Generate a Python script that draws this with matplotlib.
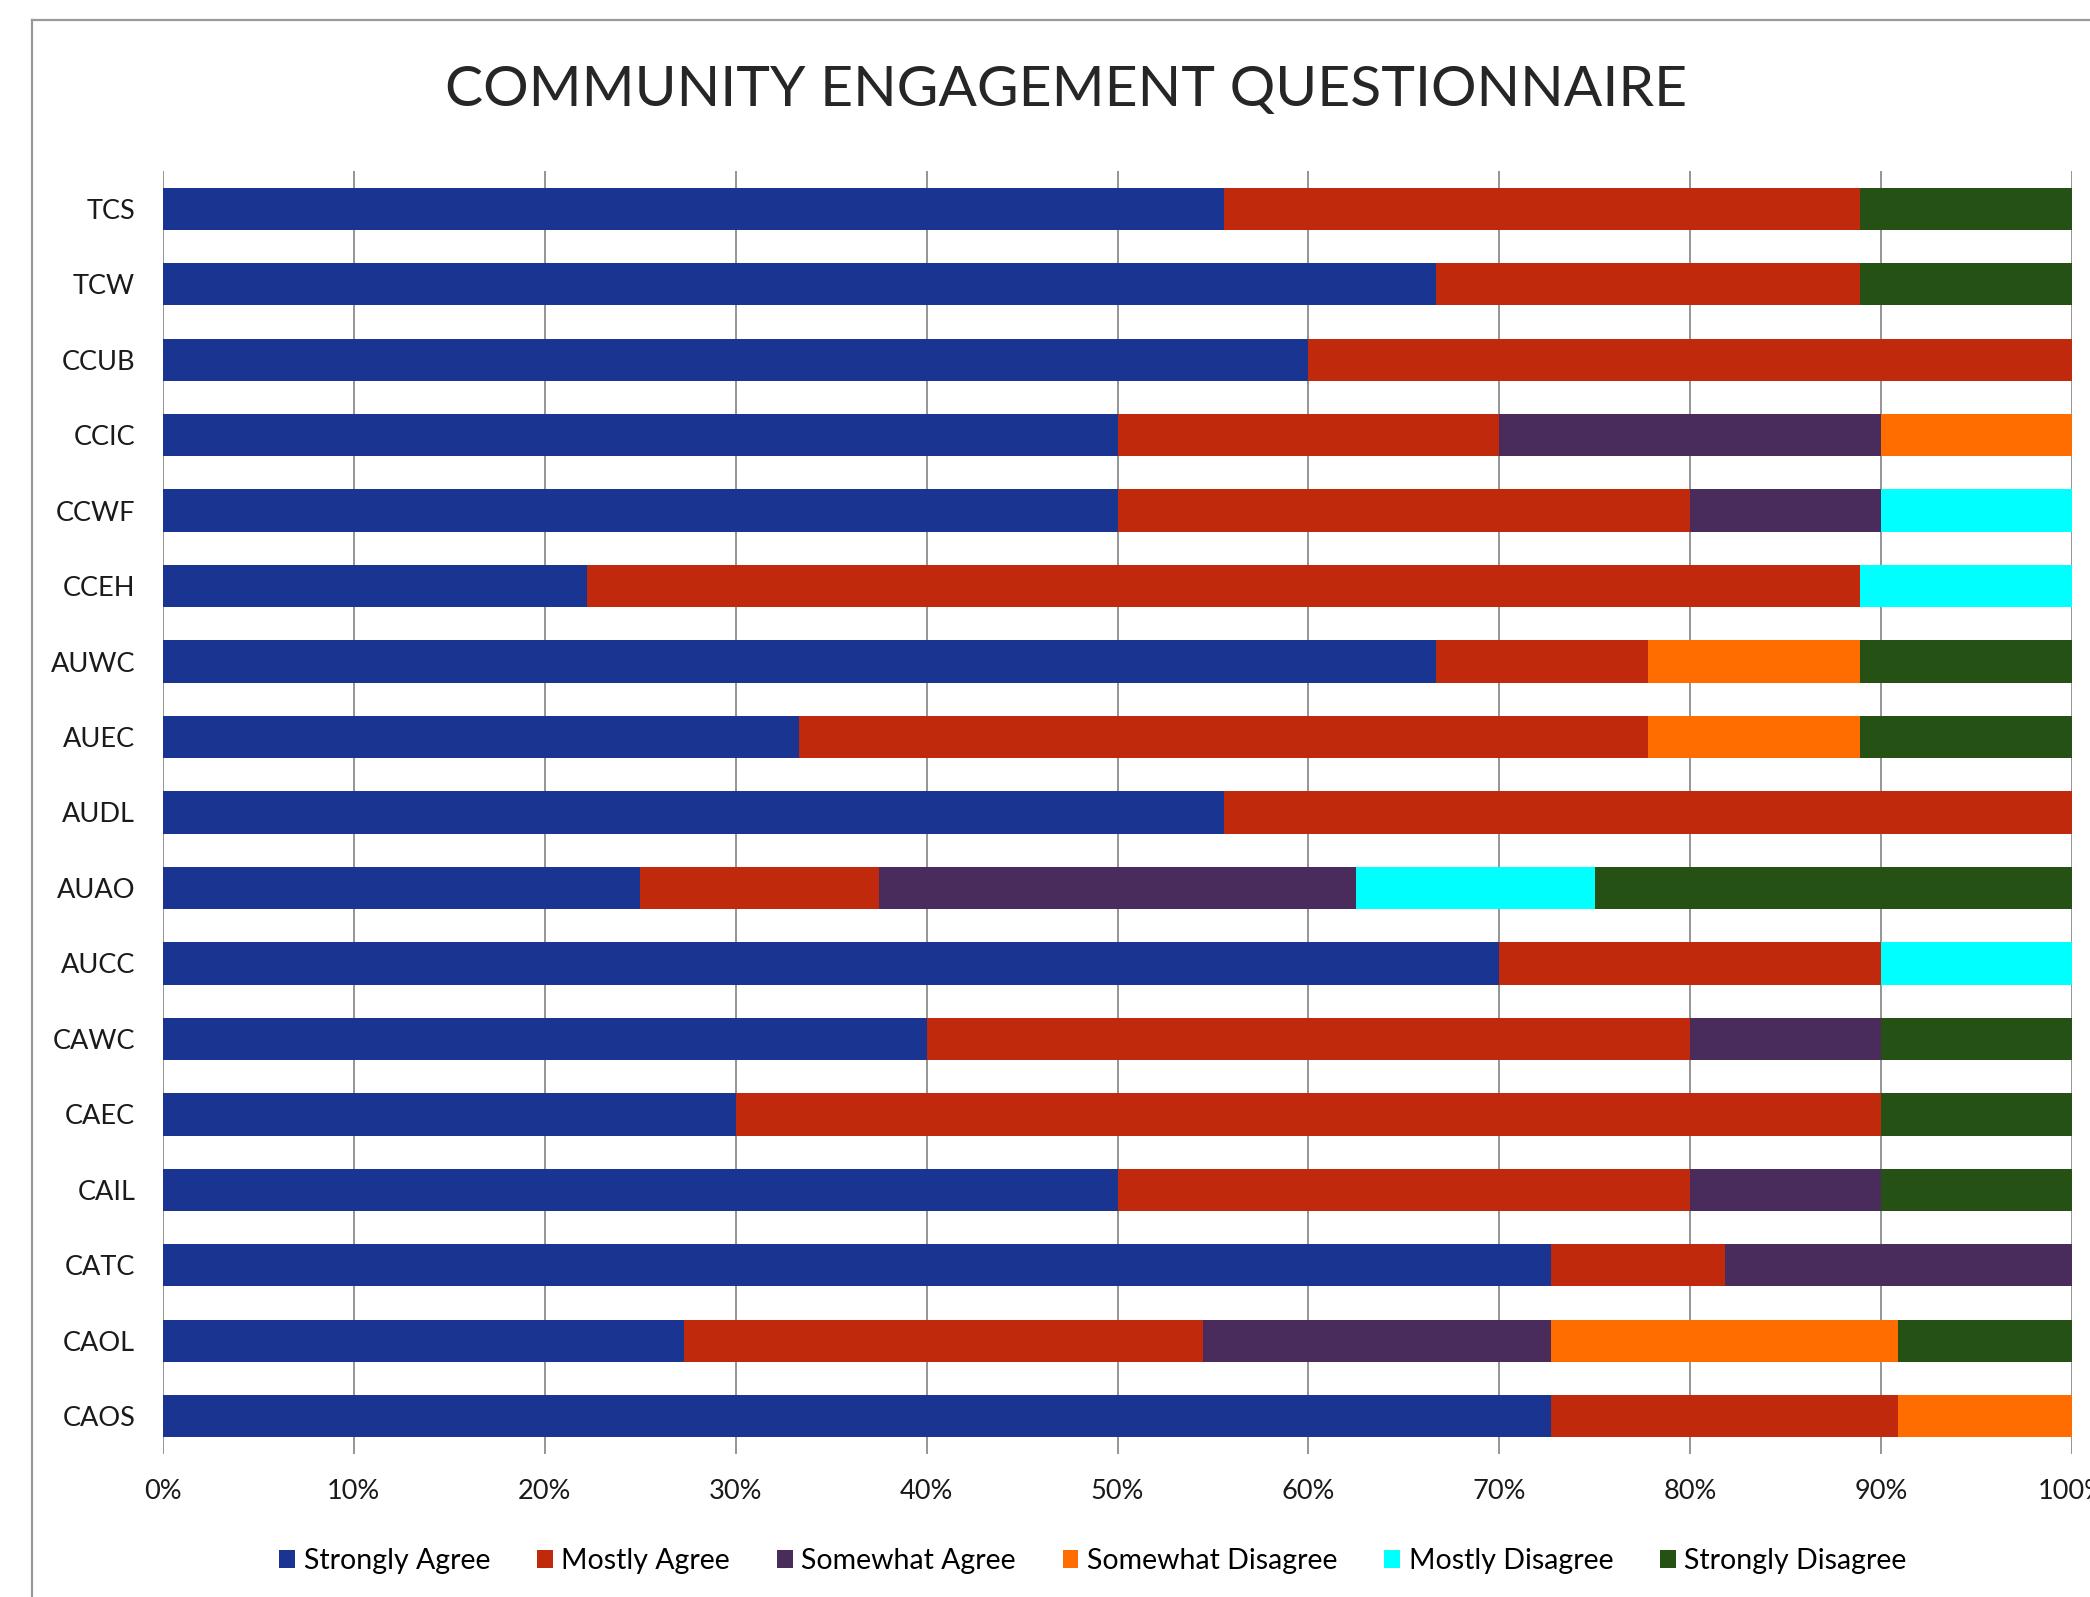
import matplotlib
matplotlib.use("Agg")
import matplotlib.pyplot as plt
import numpy as np
from matplotlib.lines import Line2D

plt.rcParams['font.family'] = ['Lato', 'DejaVu Sans']

# survey items, top to bottom
categories = ['TCS', 'TCW', 'CCUB', 'CCIC', 'CCWF', 'CCEH', 'AUWC', 'AUEC', 'AUDL',
              'AUAO', 'AUCC', 'CAWC', 'CAEC', 'CAIL', 'CATC', 'CAOL', 'CAOS']

responses = ['Strongly Agree', 'Mostly Agree', 'Somewhat Agree',
             'Somewhat Disagree', 'Mostly Disagree', 'Strongly Disagree']
colors = ['#1a3591', '#c0290c', '#4a2c5c', '#ff6c00', '#00ffff', '#255214']

# percentages per response
strongly_agree = [55.6, 66.7, 60.0, 50.0, 50.0, 22.2, 66.7, 33.3, 55.6,
                  25.0, 70.0, 40.0, 30.0, 50.0, 72.7, 27.3, 72.7]
mostly_agree = [33.3, 22.2, 40.0, 20.0, 30.0, 66.7, 11.1, 44.5, 44.4,
                12.5, 20.0, 40.0, 60.0, 30.0, 9.1, 27.2, 18.2]
somewhat_agree = [0, 0, 0, 20.0, 10.0, 0, 0, 0, 0,
                  25.0, 0, 10.0, 0, 10.0, 18.2, 18.2, 0]
somewhat_disagree = [0, 0, 0, 10.0, 0, 0, 11.1, 11.1, 0,
                     0, 0, 0, 0, 0, 0, 18.2, 9.1]
mostly_disagree = [0, 0, 0, 0, 10.0, 11.1, 0, 0, 0,
                   12.5, 10.0, 0, 0, 0, 0, 0, 0]
strongly_disagree = [11.1, 11.1, 0, 0, 0, 0, 11.1, 11.1, 0,
                     25.0, 0, 10.0, 10.0, 10.0, 0, 9.1, 0]

series = [strongly_agree, mostly_agree, somewhat_agree,
          somewhat_disagree, mostly_disagree, strongly_disagree]

fig = plt.figure(figsize=(20.9, 15.97), dpi=100)
ax = fig.add_axes([163 / 2090, 1 - 1454 / 1597, (2072 - 163) / 2090, (1454 - 171) / 1597])

y = np.arange(len(categories))
left = np.zeros(len(categories))
for vals, name, col in zip(series, responses, colors):
    vals = np.array(vals) / 100.0
    ax.barh(y, vals, left=left, height=0.56, color=col, label=name, zorder=3)
    left += vals

ax.set_xlim(0, 1)
ax.set_ylim(len(categories) - 0.5, -0.5)
ax.set_yticks(y)
ax.set_yticklabels(categories)
ax.set_xticks(np.arange(0, 1.01, 0.1))
ax.set_xticklabels([f'{int(round(v * 100))}%' for v in np.arange(0, 1.01, 0.1)])
ax.grid(axis='x', color='#8c8c8c', linewidth=1.3, zorder=0)
ax.set_axisbelow(True)
for s in ax.spines.values():
    s.set_visible(False)
ax.tick_params(axis='both', length=0, labelsize=19.5, colors='#1a1a1a')
ax.tick_params(axis='x', pad=18)
ax.tick_params(axis='y', pad=20)

fig.text(1066 / 2090, 1 - 91 / 1597, 'COMMUNITY ENGAGEMENT QUESTIONNAIRE',
         ha='center', va='center', fontsize=41, color='#262626', fontweight='normal')

fig.legend(loc='center', bbox_to_anchor=(0.523, 1 - 1561 / 1597), ncol=6,
           frameon=False, fontsize=20.5, handlelength=0.55, handleheight=0.55,
           handletextpad=0.3, columnspacing=1.65)

# chart area border (left and top edges visible)
fig.add_artist(Line2D([32 / 2090, 32 / 2090], [0, 1 - 20 / 1597],
                      transform=fig.transFigure, color='#999999', linewidth=1.6))
fig.add_artist(Line2D([32 / 2090, 1], [1 - 20 / 1597, 1 - 20 / 1597],
                      transform=fig.transFigure, color='#999999', linewidth=1.6))

fig.savefig('out.png', dpi=100, facecolor='white')
